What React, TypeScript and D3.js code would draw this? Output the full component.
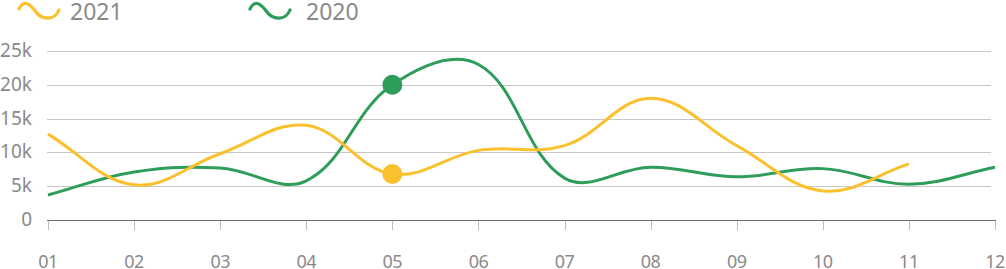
import React from "react";
import * as d3 from "d3";

const months = ["01", "02", "03", "04", "05", "06", "07", "08", "09", "10", "11", "12"];
const series2021 = [12700, 5200, 9800, 14000, 6800, 10300, 11000, 18000, 11000, 4300, 8300];
const series2020 = [3700, 7100, 7700, 5800, 20000, 23000, 6200, 7800, 6400, 7600, 5300, 7800];
const yTicks = [0, 5000, 10000, 15000, 20000, 25000];
const highlightIndex = 4;
const legendNames = ["2021", "2020"];

const YELLOW = "#fbc02d";
const GREEN = "#2e9d5a";
const W = 1006;
const H = 269;

function smoothPath(pts: [number, number][], smooth = 0.5): string {
  const n = pts.length;
  const cps: [number, number][][] = [];
  for (let i = 0; i < n; i++) {
    const p = pts[i];
    const prev = i > 0 ? pts[i - 1] : p;
    const next = i < n - 1 ? pts[i + 1] : p;
    const vx = (next[0] - prev[0]) * smooth;
    const vy = (next[1] - prev[1]) * smooth;
    let d0 = Math.hypot(p[0] - prev[0], p[1] - prev[1]);
    let d1 = Math.hypot(p[0] - next[0], p[1] - next[1]);
    const sum = d0 + d1;
    if (sum !== 0) {
      d0 /= sum;
      d1 /= sum;
    }
    cps.push([
      [p[0] - vx * d0, p[1] - vy * d0],
      [p[0] + vx * d1, p[1] + vy * d1],
    ]);
  }
  const path = d3.path();
  path.moveTo(pts[0][0], pts[0][1]);
  for (let i = 0; i < n - 1; i++) {
    const c1 = cps[i][1];
    const c2 = cps[i + 1][0];
    path.bezierCurveTo(c1[0], c1[1], c2[0], c2[1], pts[i + 1][0], pts[i + 1][1]);
  }
  return path.toString();
}

export default function App() {
  const x = d3.scalePoint<string>().domain(months).range([48, 995]);
  const y = d3.scaleLinear().domain([0, 25000]).range([220, 51]);

  const pts2021 = series2021.map((v, i) => [x(months[i])!, y(v)] as [number, number]);
  const pts2020 = series2020.map((v, i) => [x(months[i])!, y(v)] as [number, number]);

  const wave = "M0,7 C5,-3 11,2 17,10 C22,17 35,20 40,8";
  const font = "'Noto Sans', 'Open Sans', sans-serif";
  const gray = "#8a8a8a";
  const smooth = 0.38;

  return (
    <div style={{ position: "fixed", left: 0, top: 0 }}>
      <svg width={W} height={H} style={{ display: "block", background: "#fff" }}>
        {/* legend */}
        <g>
          <path d={wave} transform="translate(19,2)" fill="none" stroke={YELLOW} strokeWidth={3.2} strokeLinecap="round" />
          <text x={70} y={19.5} fontFamily={font} fontSize={23} fill={gray}>{legendNames[0]}</text>
          <path d={wave} transform="translate(250,2)" fill="none" stroke={GREEN} strokeWidth={3.2} strokeLinecap="round" />
          <text x={306} y={19.5} fontFamily={font} fontSize={23} fill={gray}>{legendNames[1]}</text>
        </g>
        {/* grid */}
        {yTicks.map((t) =>
          t === 0 ? null : (
            <line key={t} x1={47} x2={991} y1={Math.round(y(t)) + 0.5} y2={Math.round(y(t)) + 0.5} stroke="#c8c8c8" strokeWidth={1} />
          )
        )}
        {yTicks.map((t) => (
          <text key={"l" + t} x={32} y={y(t)} dy="0.32em" textAnchor="end" fontFamily={font} fontSize={19} fill={gray}>
            {t === 0 ? "0" : `${t / 1000}k`}
          </text>
        ))}
        {/* x axis */}
        <line x1={47} x2={996} y1={220.5} y2={220.5} stroke="#6e6e6e" strokeWidth={1} />
        {months.map((m) => (
          <g key={m}>
            <line x1={Math.round(x(m)!) + 0.5} x2={Math.round(x(m)!) + 0.5} y1={221} y2={230} stroke="#bdbdbd" strokeWidth={1} />
            <text x={x(m)} y={268} textAnchor="middle" fontFamily={font} fontSize={18} letterSpacing={-0.5} fill={gray}>
              {m}
            </text>
          </g>
        ))}
        {/* lines */}
        <path d={smoothPath(pts2020, smooth)} fill="none" stroke={GREEN} strokeWidth={3} />
        <path d={smoothPath(pts2021, smooth)} fill="none" stroke={YELLOW} strokeWidth={3} />
        {/* highlighted points */}
        <circle cx={pts2020[highlightIndex][0]} cy={pts2020[highlightIndex][1]} r={10} fill={GREEN} />
        <circle cx={pts2021[highlightIndex][0]} cy={pts2021[highlightIndex][1]} r={10} fill={YELLOW} />
      </svg>
    </div>
  );
}
